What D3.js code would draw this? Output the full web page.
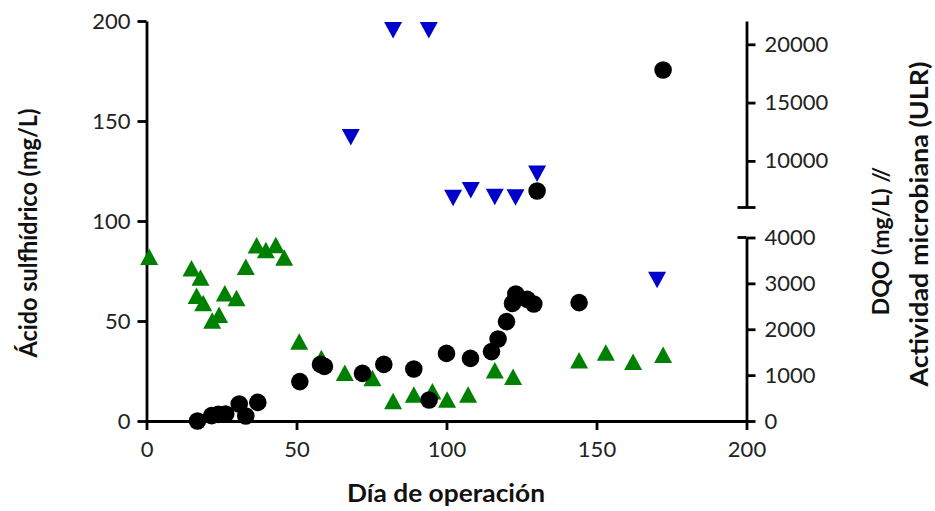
<!DOCTYPE html>
<html>
<head>
<meta charset="utf-8">
<script src="https://cdn.jsdelivr.net/npm/d3@7"></script>
<style>
  html, body { margin: 0; padding: 0; background: #fff; }
  svg { display: block; }
  .tick text { font-family: Lato, "Open Sans", sans-serif; font-size: 22px; fill: #222; }
  .title { font-family: Lato, "Open Sans", sans-serif; font-weight: bold; font-size: 25px; fill: #111; }
</style>
</head>
<body>
<svg id="chart" width="935" height="511"></svg>
<script>
// Ácido sulfhídrico (mg/L), left axis
const h2sDay = [17, 21.7, 23.9, 26.4, 30.9, 33.1, 37.1, 51.1, 58, 59.3, 72, 79.1, 89.1, 94.2,
  100, 108, 115, 117.2, 120, 122, 123.1, 126.9, 129.1, 130.2, 144.2, 172.2];
const h2sVal = [0, 2.7, 3.3, 3.5, 8.5, 2.5, 9.3, 19.7, 28.3, 27.3, 23.8, 28.3, 26, 10.5,
  33.8, 31.3, 34.7, 41, 49.7, 58.8, 63.5, 60.8, 58.5, 115, 59.2, 175.5];

// DQO (mg/L), right axis
const dqoDay = [0.9, 15, 18, 16.7, 18.9, 21.9, 24.2, 26.1, 30, 33.1, 36.7, 39.8, 43.1, 45.9,
  50.9, 58.3, 66.1, 75.3, 82.2, 89.1, 95.3, 100.2, 107.2, 116.1, 122.2, 144.2, 153.1, 162.2, 172.2];
const dqoVal = [3580, 3330, 3130, 2730, 2570, 2190, 2315, 2785, 2680, 3360, 3830, 3725, 3835, 3565,
  1735, 1375, 1050, 940, 435, 580, 650, 470, 580, 1105, 965, 1325, 1495, 1290, 1445];

// Actividad microbiana (ULR), right axis
const ulrDay = [68.1, 82.2, 94.1, 102.2, 108.1, 116.1, 123, 130.2, 170.2];
const ulrVal = [12030, 21200, 21200, 6820, 7480, 6900, 6850, 8900, 3075];

// Axis ticks
const xTicks = [0, 50, 100, 150, 200];
const leftTicks = [0, 50, 100, 150, 200];
const rightLowTicks = [0, 1000, 2000, 3000, 4000];
const rightHighTicks = [10000, 15000, 20000];

const svg = d3.select("#chart");

const x = d3.scaleLinear().domain([0, 200]).range([146.5, 746.5]);
const yL = d3.scaleLinear().domain([0, 200]).range([421, 21]);
// broken right axis: two segments
const yRLow = d3.scaleLinear().domain([0, 4000]).range([421, 237.5]);
const yRHigh = d3.scaleLinear().domain([6000, 22000]).range([207.5, 21]);
const yR = v => v <= 4000 ? yRLow(v) : yRHigh(v);

const axisW = 2.8;
const tick = 9;
const fmt = d3.format("d");

function styleAxis(g) {
  g.selectAll("path.domain").attr("stroke", "#000").attr("stroke-width", axisW);
  g.selectAll(".tick line").attr("stroke", "#000").attr("stroke-width", axisW);
}

// x axis
const gx = svg.append("g").attr("transform", `translate(0,${yL(0)})`)
  .call(d3.axisBottom(x).tickValues(xTicks).tickSize(tick).tickSizeOuter(0).tickPadding(8))
  .call(styleAxis);
gx.selectAll("text").attr("dy", "0.85em");

// left axis
svg.append("g").attr("transform", `translate(${x(0)},0)`)
  .call(d3.axisLeft(yL).tickValues(leftTicks).tickSize(tick).tickSizeOuter(0).tickPadding(7))
  .call(styleAxis);

// right axis, lower segment
const gRL = svg.append("g").attr("transform", `translate(${x(200)},0)`)
  .call(d3.axisRight(yRLow).tickValues(rightLowTicks).tickFormat(fmt)
    .tickSize(tick).tickSizeOuter(0).tickPadding(9))
  .call(styleAxis);
gRL.append("line").attr("x1", -tick).attr("x2", 0)
  .attr("y1", yRLow(4000)).attr("y2", yRLow(4000))
  .attr("stroke", "#000").attr("stroke-width", axisW);

// right axis, upper segment
const gRH = svg.append("g").attr("transform", `translate(${x(200)},0)`)
  .call(d3.axisRight(yRHigh).tickValues(rightHighTicks).tickFormat(fmt)
    .tickSize(tick).tickSizeOuter(0).tickPadding(9))
  .call(styleAxis);
gRH.append("line").attr("x1", -tick).attr("x2", tick)
  .attr("y1", yRHigh(6000)).attr("y2", yRHigh(6000))
  .attr("stroke", "#000").attr("stroke-width", axisW);

// markers
const triW = 18, triH = 16.5;
const upTri = `M0,${-triH / 2}L${triW / 2},${triH / 2}L${-triW / 2},${triH / 2}Z`;
const downTri = `M0,${triH / 2}L${triW / 2},${-triH / 2}L${-triW / 2},${-triH / 2}Z`;

svg.append("g").selectAll("path")
  .data(d3.zip(dqoDay, dqoVal))
  .join("path")
  .attr("d", upTri)
  .attr("transform", d => `translate(${x(d[0])},${yR(d[1])})`)
  .attr("fill", "#008000");

svg.append("g").selectAll("path")
  .data(d3.zip(ulrDay, ulrVal))
  .join("path")
  .attr("d", downTri)
  .attr("transform", d => `translate(${x(d[0])},${yR(d[1])})`)
  .attr("fill", "#0000cc");

svg.append("g").selectAll("circle")
  .data(d3.zip(h2sDay, h2sVal))
  .join("circle")
  .attr("cx", d => x(d[0]))
  .attr("cy", d => yL(d[1]))
  .attr("r", 8.8)
  .attr("fill", "#000");

// titles
function title(text, transform, len, size) {
  const t = svg.append("text").attr("class", "title")
    .attr("transform", transform)
    .attr("text-anchor", "middle")
    .text(text);
  if (len) t.attr("textLength", len).attr("lengthAdjust", "spacingAndGlyphs");
  if (size) t.style("font-size", size + "px");
}
title("Día de operación", "translate(446,502)", 198);
title("Ácido sulfhídrico (mg/L)", "translate(37,233) rotate(-90)", 249);
title("DQO (mg/L) //", "translate(889,241) rotate(-90)", null, 23);
title("Actividad microbiana (ULR)", "translate(928,224) rotate(-90)", 325);
</script>
</body>
</html>
